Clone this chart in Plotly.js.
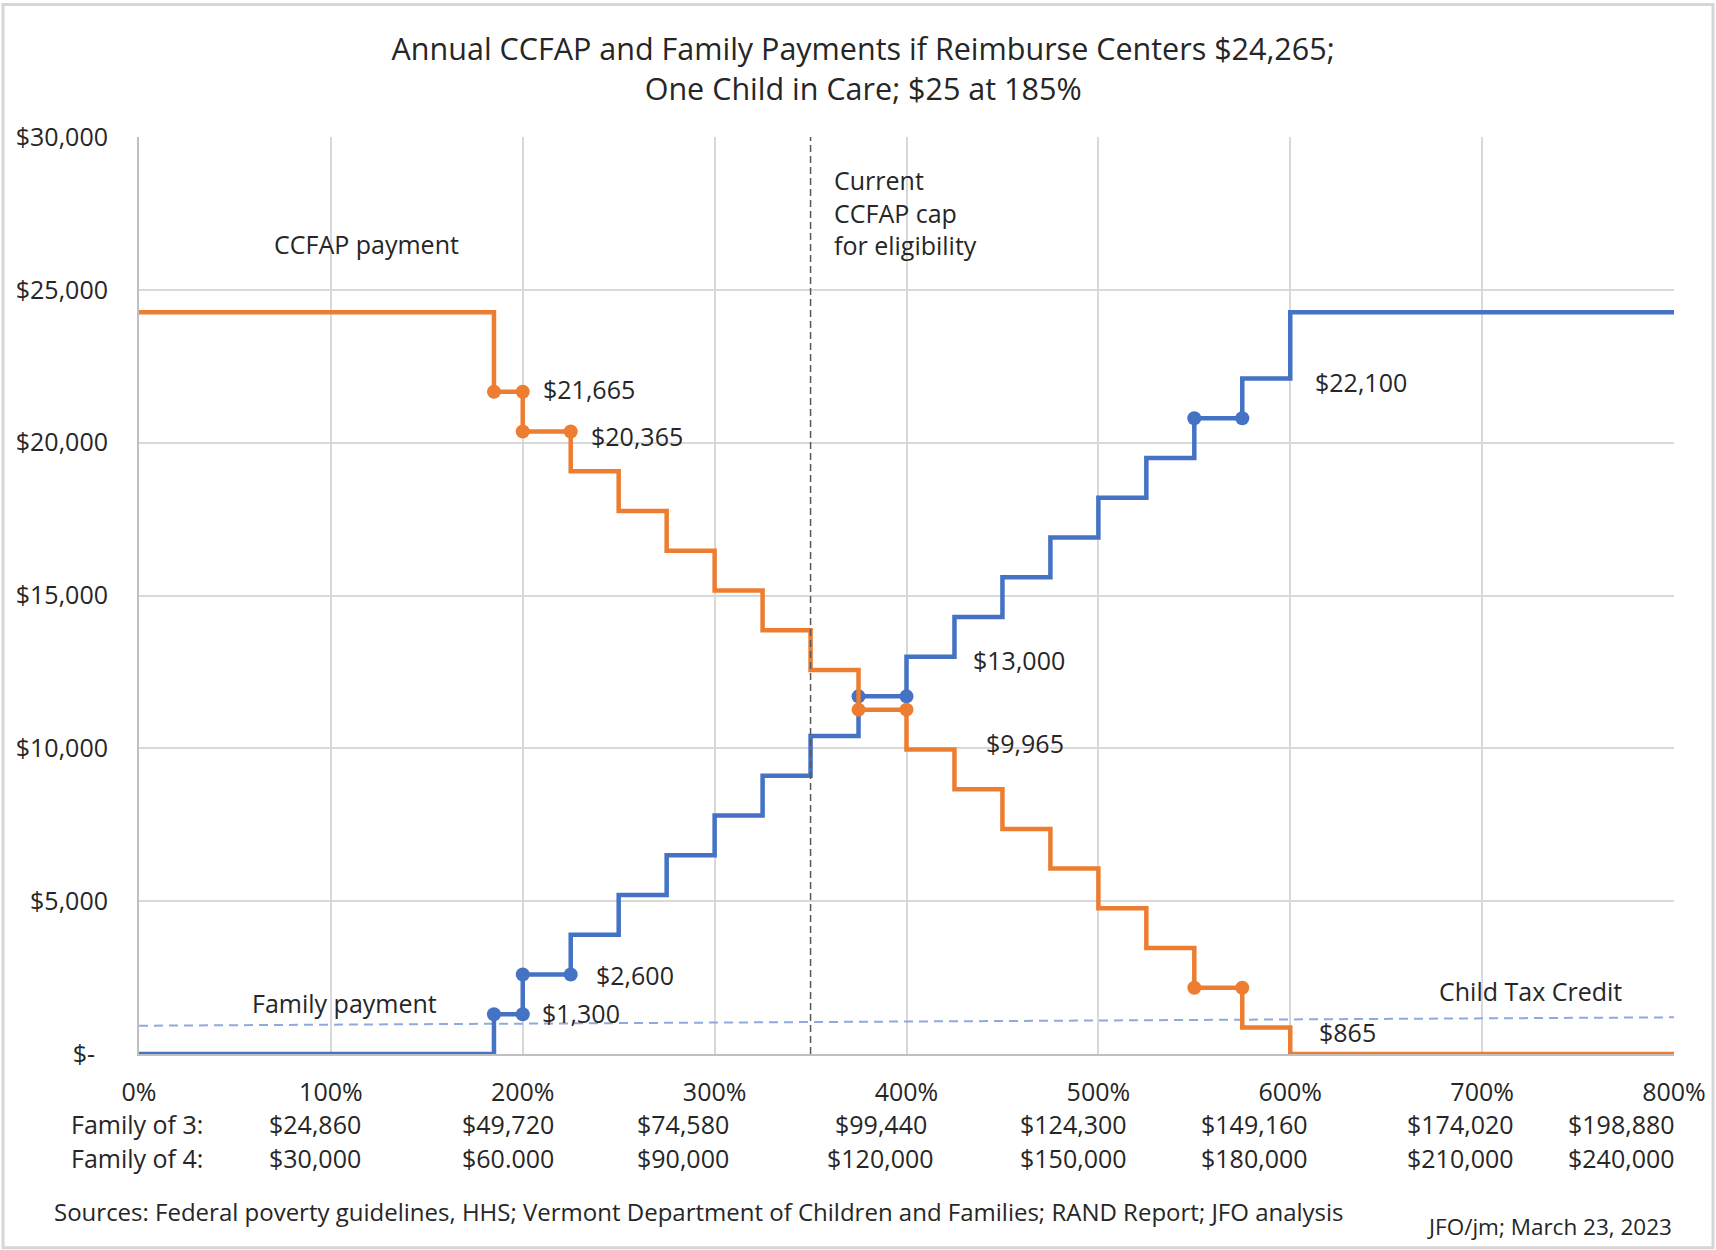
<!DOCTYPE html>
<html>
<head>
<meta charset="utf-8">
<script src="https://cdn.plot.ly/plotly-3.0.1.min.js"></script>
<style>
  html, body { margin: 0; padding: 0; background: #ffffff; }
  #chart { width: 1716px; height: 1250px; }
</style>
</head>
<body>
<div id="chart"></div>
<script>
// ---------------- DATA ----------------
// Income as % of federal poverty level where each step begins
const pctBreaks = [0, 185, 200, 225, 250, 275, 300, 325, 350, 375, 400, 425, 450, 475, 500, 525, 550, 575, 600, 800];
// Annual CCFAP payment (orange) from each break onward
const ccfapPayment = [24265, 21665, 20365, 19065, 17765, 16465, 15165, 13865, 12565, 11265, 9965, 8665, 7365, 6065, 4765, 3465, 2165, 865, 0, 0];
// Annual family payment (blue) from each break onward
const familyPayment = [0, 1300, 2600, 3900, 5200, 6500, 7800, 9100, 10400, 11700, 13000, 14300, 15600, 16900, 18200, 19500, 20800, 22100, 24265, 24265];
// Steps drawn with dots at both ends
const markedStepStarts = [185, 200, 375, 550];
// Steps whose value is written next to them
const ccfapLabeledSteps = [185, 200, 400, 575];
const familyLabeledSteps = [185, 200, 400, 575];
// Child Tax Credit reference line
const ctcPct = [0, 800];
const ctcValue = [925, 1200];
// Current CCFAP cap for eligibility (% FPL)
const capPct = 350;
// Axis ticks
const xTickValues = [0, 100, 200, 300, 400, 500, 600, 700, 800];
const yTickValues = [0, 5000, 10000, 15000, 20000, 25000, 30000];
// Income rows under the axis
const family3Income = ['$24,860', '$49,720', '$74,580', '$99,440', '$124,300', '$149,160', '$174,020', '$198,880'];
const family4Income = ['$30,000', '$60.000', '$90,000', '$120,000', '$150,000', '$180,000', '$210,000', '$240,000'];

// ---------------- LAYOUT CONSTANTS ----------------
const FONT = '"Open Sans", "Noto Sans", sans-serif';
const TXT = '#262626';
const ORANGE = '#ED7D31';
const BLUE = '#4472C4';
const FS = 25;
const incomeLabelCenters = [91.7, 192.3, 283.5, 386.7, 487.2, 581.6, 688.9, 772.8];

function money(v) {
  return '$' + v.toLocaleString('en-US');
}
function stepMarkers(series) {
  const xs = [], ys = [];
  markedStepStarts.forEach(s => {
    const i = pctBreaks.indexOf(s);
    xs.push(pctBreaks[i], pctBreaks[i + 1]);
    ys.push(series[i], series[i]);
  });
  return {xs, ys};
}
function stepLabels(series, steps, shifts, yshifts) {
  return steps.map((s, k) => {
    const i = pctBreaks.indexOf(s);
    return {
      x: pctBreaks[i + 1], y: series[i], xref: 'x', yref: 'y',
      text: money(series[i]), showarrow: false,
      xanchor: 'left', yanchor: 'middle',
      xshift: shifts[k], yshift: yshifts[k],
      font: {family: FONT, size: FS, color: TXT}
    };
  });
}

const om = stepMarkers(ccfapPayment);
const fm = stepMarkers(familyPayment);

const traces = [
  { // Child Tax Credit
    x: ctcPct, y: ctcValue, mode: 'lines', hoverinfo: 'skip',
    line: {color: '#8FAADC', width: 2, dash: '9px,6px'}
  },
  { // Family payment
    x: pctBreaks, y: familyPayment, mode: 'lines', hoverinfo: 'skip',
    line: {color: BLUE, width: 4.5, shape: 'hv'}
  },
  {
    x: fm.xs, y: fm.ys, mode: 'markers', hoverinfo: 'skip',
    marker: {color: BLUE, size: 14}
  },
  { // CCFAP payment
    x: pctBreaks, y: ccfapPayment, mode: 'lines', hoverinfo: 'skip',
    line: {color: ORANGE, width: 4.5, shape: 'hv'}
  },
  {
    x: om.xs, y: om.ys, mode: 'markers', hoverinfo: 'skip',
    marker: {color: ORANGE, size: 14}
  },
  { // eligibility cap
    x: [capPct, capPct], y: [0, 30000], mode: 'lines', hoverinfo: 'skip',
    line: {color: '#595959', width: 1.5, dash: '7px,4px'}
  }
];

const annotations = [];
stepLabels(ccfapPayment, ccfapLabeledSteps, [18, 18, 30, 27], [3, -4, 6, -4]).forEach(a => annotations.push(a));
stepLabels(familyPayment, familyLabeledSteps, [17, 23, 17, 23], [1, 0, -3, -4]).forEach(a => annotations.push(a));

annotations.push(
  {x: 118.8, y: 26500, xref: 'x', yref: 'y', text: 'CCFAP payment', showarrow: false,
   xanchor: 'center', yanchor: 'middle', font: {family: FONT, size: FS, color: TXT}},
  {x: 107, y: 1660, xref: 'x', yref: 'y', text: 'Family payment', showarrow: false,
   xanchor: 'center', yanchor: 'middle', font: {family: FONT, size: FS, color: TXT}},
  {x: 725.4, y: 2060, xref: 'x', yref: 'y', text: 'Child Tax Credit', showarrow: false,
   xanchor: 'center', yanchor: 'middle', font: {family: FONT, size: FS, color: TXT}},
  {x: capPct, y: 27530, xref: 'x', yref: 'y', xshift: 21, showarrow: false, align: 'left',
   text: 'Current<br>CCFAP cap<br>for eligibility',
   xanchor: 'left', yanchor: 'middle', font: {family: FONT, size: FS, color: TXT}}
);

// income rows
const rowFont = {family: FONT, size: FS, color: TXT};
annotations.push(
  {x: -0.0456, y: 0, xref: 'paper', yref: 'paper', yshift: -70, text: 'Family of 3:',
   showarrow: false, xanchor: 'left', yanchor: 'middle', font: rowFont},
  {x: -0.0456, y: 0, xref: 'paper', yref: 'paper', yshift: -104, text: 'Family of 4:',
   showarrow: false, xanchor: 'left', yanchor: 'middle', font: rowFont}
);
family3Income.forEach((t, i) => annotations.push({
  x: incomeLabelCenters[i], y: 0, xref: 'x', yref: 'paper', yshift: -70, text: t,
  showarrow: false, xanchor: 'center', yanchor: 'middle', font: rowFont
}));
family4Income.forEach((t, i) => annotations.push({
  x: incomeLabelCenters[i], y: 0, xref: 'x', yref: 'paper', yshift: -104, text: t,
  showarrow: false, xanchor: 'center', yanchor: 'middle', font: rowFont
}));
annotations.push(
  {x: -0.0564, y: 0, xref: 'paper', yref: 'paper', yshift: -157,
   text: 'Sources: Federal poverty guidelines, HHS; Vermont Department of Children and Families; RAND Report; JFO analysis',
   showarrow: false, xanchor: 'left', yanchor: 'middle', font: {family: FONT, size: 24, color: TXT}},
  {x: 1, y: 0, xref: 'paper', yref: 'paper', yshift: -172,
   text: 'JFO/jm; March 23, 2023',
   showarrow: false, xanchor: 'right', yanchor: 'middle', font: {family: FONT, size: 22.5, color: TXT}}
);

const layout = {
  width: 1716, height: 1250,
  margin: {l: 139, r: 42, t: 136.5, b: 195.5, pad: 0},
  paper_bgcolor: '#ffffff', plot_bgcolor: '#ffffff',
  showlegend: false, hovermode: false,
  title: {
    text: 'Annual CCFAP and Family Payments if Reimburse Centers $24,265;<br>One Child in Care; $25 at 185%',
    font: {family: FONT, size: 30.5, color: TXT},
    x: 0.503, xanchor: 'center', y: 0.952, yanchor: 'middle', yref: 'container'
  },
  xaxis: {
    range: [0, 800], tickvals: xTickValues, ticktext: xTickValues.map(v => v + '%'),
    showgrid: true, gridcolor: '#d9d9d9', gridwidth: 2,
    showline: true, linecolor: '#bfbfbf', linewidth: 2,
    zeroline: false, ticks: '', ticklabelstandoff: 15,
    tickfont: {family: FONT, size: FS, color: TXT}, fixedrange: true
  },
  yaxis: {
    range: [0, 30000], tickvals: yTickValues,
    ticktext: yTickValues.map(v => v === 0 ? '$-\u00a0\u00a0' : money(v)),
    showgrid: true, gridcolor: '#d9d9d9', gridwidth: 2,
    showline: true, linecolor: '#bfbfbf', linewidth: 2,
    zeroline: false, ticks: '', ticklabelstandoff: 24,
    tickfont: {family: FONT, size: FS, color: TXT}, fixedrange: true
  },
  annotations: annotations,
  shapes: [
    {type: 'rect', xref: 'paper', yref: 'paper',
     x0: -0.0886, x1: 1.0254, y0: -0.2114, y1: 1.1444,
     line: {color: '#d6d6d6', width: 3}, fillcolor: 'rgba(0,0,0,0)', layer: 'below'}
  ]
};

Plotly.newPlot('chart', traces, layout, {staticPlot: true, displayModeBar: false});
</script>
</body>
</html>
